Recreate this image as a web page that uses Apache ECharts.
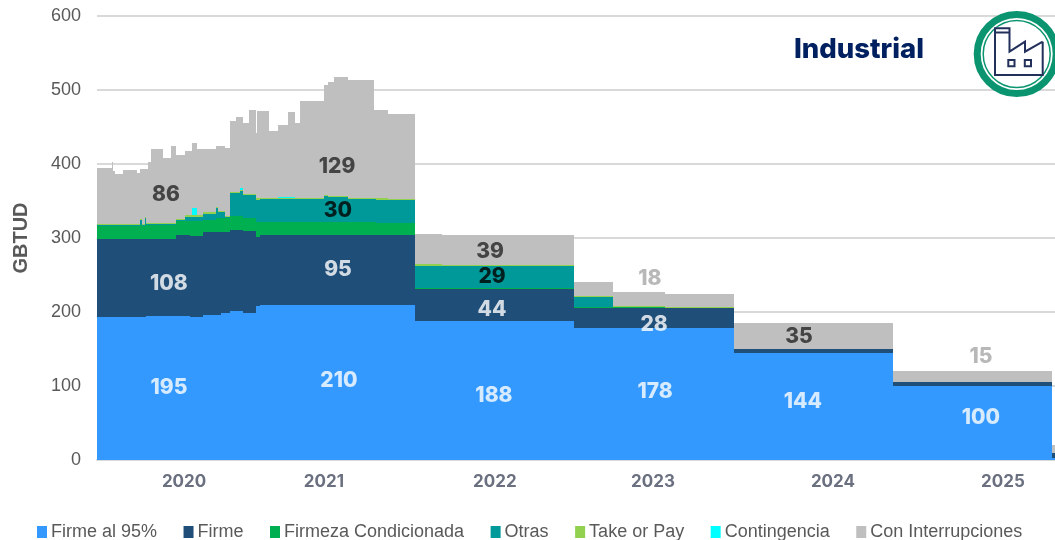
<!DOCTYPE html>
<html><head><meta charset="utf-8">
<style>html,body{margin:0;padding:0;background:#fff}#c{width:1055px;height:540px}</style>
<script src="https://cdn.jsdelivr.net/npm/echarts@6/dist/echarts.min.js"></script>
</head><body><div id="c"></div>
<script>
const periods = [2020,2020.092,2020.102,2020.113,2020.165,2020.249,2020.27,2020.28,2020.301,2020.311,2020.322,2020.339,2020.412,2020.464,2020.499,2020.552,2020.583,2020.594,2020.629,2020.667,2020.746,2020.761,2020.782,2020.803,2020.834,2020.876,2020.897,2020.917,2020.938,2020.955,2020.997,2021.007,2021.022,2021.08,2021.137,2021.2,2021.246,2021.273,2021.429,2021.45,2021.492,2021.576,2021.743,2021.753,2021.827,2022,2022.165,2023,2023.24,2023.57,2024,2025,2026,2026.019];
const firme95 = [193,193,193,193,193,193,193,193,193,194,194,194,194.6,194.6,194.6,194.6,193,193,193,196,196,196,198,198,202,202,202,199,199,199,208,208,210,210,210,210,210,210,210,210,210,210,210,210,210,188,188,178,178,178,145,100,3,3];
const firme = [105,105,105,105,105,105,105,105,105,105,105,105,104.4,104.4,109.4,109.4,110,110,110,111.6,111.6,111.6,109.6,109.6,109,109,109,110,110,110,94,94,94.5,94.5,94.5,94.5,94.5,94.5,94.5,94.5,94.5,94.5,94.5,93.6,93.6,43,43,28,28,28,5,5,6,6];
const firmezaCond = [19,19,19,19,19,19,19,19,19,18,18,18,18,18,20,18.5,19.5,19.5,19.5,17.4,19.9,19.9,19.9,19.9,19,19,19,17.6,17.6,17.6,19,19,16.5,16.5,16.5,16.5,16.5,16.5,16.5,16.5,16.5,16.5,16.5,16.9,16.9,1.5,1.5,1,0.5,0.5,0,0,0,0];
const otras = [1,1,1,1,1,1,7,1,10,1.5,1.5,1.5,1.5,1.5,0.5,6.5,6.5,6.5,6.5,8,12.5,8.1,8.1,1.1,31,31,33,31.4,32,32,31,31,32,32,32,32,32,32,36,34,34,31.7,31.7,31.5,30.5,30.1,30.1,13.7,0,0,0,0,0,0];
const takeOrPay = [1.5,1.5,1.5,1.5,1.5,1.5,1.5,1.5,1.5,1.5,1.5,1.5,1.5,1.5,1.5,1.5,1.5,1.5,1.5,1.5,1.5,1.5,1.5,1.4,1.5,1.5,1.5,1.5,1.4,1.4,1.5,1.5,1.5,1.5,1.5,1.5,1.5,1.5,1.5,1.5,1.5,1.5,1.5,1.5,1.5,1.9,1.4,0.8,1,0.5,0,0,0,0];
const contingencia = [0,0,0,0,0,0,0,0,0,0,0,0,0,0,0,0,0,10.5,0,0,0,0,0,0,0,0,3.5,0,0,0,0,0,0,0,1,1,0,0,0,0,0,0,0,0,0,0,0,0,0,0,0,0,0,0];
const conInterrupciones = [75.1,83.5,70.5,66.5,72.5,68,67.5,73.5,64.5,73,83,100,87.5,104,86,87.1,87.1,88,89.5,85.5,83.5,87.9,87.9,91.6,95.5,101.5,96,96.5,96,113,88.5,118.5,117.5,90.5,97.5,115.1,101.5,130.5,148.5,154.5,161.5,158.8,118.3,119,115.1,40.5,39.6,19,19.5,17,35,15,11,11];

const seriesNames = ['Firme al 95%','Firme','Firmeza Condicionada','Otras','Take or Pay','Contingencia','Con Interrupciones'];
const seriesColors = ['#3399FF','#1F4E79','#00B050','#009999','#92D050','#00FFFF','#BFBFBF'];
const seriesValues = [firme95,firme,firmezaCond,otras,takeOrPay,contingencia,conInterrupciones];

const yearLabels = ['2020','2021','2022','2023','2024','2025'];
const yearLabelAt = [2020.547,2021.426,2022.5,2023.493,2024.624,2025.692];
const yTicks = [0,100,200,300,400,500,600];

const noteText = ['86','129','30','108','95','195','210','39','29','44','188','18','28','178','35','144','15','100'];
const noteX = [2020.433,2021.508,2021.514,2020.452,2021.514,2020.452,2021.52,2022.469,2022.482,2022.482,2022.494,2023.474,2023.5,2023.506,2024.41,2024.435,2025.554,2025.554];
const noteY = [359,397,337,238.5,257.5,98,107.5,282,248,203.5,87,245,183,92.6,167,79,140,57.5];
const noteColor = ['#262626','#262626','#000000','#ffffff','#ffffff','#ffffff','#ffffff','#262626','#000000','#ffffff','#ffffff','#A6A6A6','#ffffff','#ffffff','#262626','#ffffff','#A6A6A6','#ffffff'];

// decimal year -> timestamp on the time axis
const toTime = y => Date.UTC(2020,0,1) + (y-2020)*365.25*86400000;

// each period is one stacked block: [start, end, base, top]
const runningBase = periods.map(()=>0);
const areaSeries = seriesNames.map((name,i)=>{
  const blocks = [];
  for (let k=0;k+1<periods.length;k++){
    const base = runningBase[k], top = base+seriesValues[i][k];
    blocks.push([toTime(periods[k]),toTime(periods[k+1]),base,top]);
    runningBase[k] = top;
  }
  return {
    name, type:'custom', color:seriesColors[i], itemStyle:{color:seriesColors[i]}, z:2, silent:true,
    encode:{x:[0,1],y:[2,3]}, data:blocks,
    renderItem:(params,api)=>{
      if (api.value(3)<=api.value(2)) return null;
      const a = api.coord([api.value(0),api.value(2)]);
      const b = api.coord([api.value(1),api.value(3)]);
      const x0=Math.round(a[0]), x1=Math.round(b[0]), y0=Math.round(a[1]), y1=Math.round(b[1]);
      return {type:'rect',shape:{x:x0,y:y1,width:x1-x0,height:Math.max(y0-y1,1)},style:{fill:seriesColors[i]}};
    }
  };
});
const noteSeries = {
  type:'scatter', symbolSize:1, itemStyle:{color:'transparent'}, z:10, silent:true,
  data:noteText.map((t,i)=>({value:[toTime(noteX[i]),noteY[i]],
    label:{show:true,position:'inside',formatter:t,color:noteColor[i],fontFamily:'Inter',fontWeight:800,fontSize:21}}))
};

const chart = echarts.init(document.getElementById('c'),null,{renderer:'canvas'});
chart.setOption({
  animation:false, backgroundColor:'#fff',
  title:{text:'Industrial',left:789,top:31,textStyle:{fontFamily:'Inter',fontWeight:800,fontSize:27.5,color:'#002060'}},
  legend:{data:seriesNames,left:32,top:518,icon:'rect',itemWidth:10,itemHeight:12,itemGap:26.5,
    textStyle:{fontFamily:'Liberation Sans',fontSize:18,color:'#595959',padding:[0,0,0,-1]}},
  grid:{left:97,right:0,top:16,bottom:80,containLabel:false},
  xAxis:[
   {type:'time',min:toTime(2020),max:toTime(2026.019),
    splitLine:{show:false},axisTick:{show:false},axisLabel:{show:false},
    axisLine:{show:true,lineStyle:{color:'#D9D9D9',width:2}}},
   {type:'value',min:2020,max:2026.019,position:'bottom',
    splitLine:{show:false},axisTick:{show:false},axisLine:{show:false},
    axisLabel:{customValues:yearLabelAt,margin:13,hideOverlap:false,
      formatter:v=>yearLabels[yearLabelAt.indexOf(v)]||'',
      fontFamily:'Inter',fontWeight:700,fontSize:17,color:'#6B7080'}}
  ],
  yAxis:{type:'value',min:0,max:600,interval:100,name:'GBTUD',nameLocation:'middle',nameGap:66,
    nameTextStyle:{fontFamily:'Liberation Sans',fontWeight:700,fontSize:20,color:'#595959'},
    axisLine:{show:false},axisTick:{show:false},
    axisLabel:{margin:16,padding:[2,0,0,0],fontFamily:'Liberation Sans',fontSize:18,color:'#595959',
      formatter:v=>yTicks.includes(v)?String(v):''},
    splitLine:{show:true,lineStyle:{color:'#D9D9D9',width:2}}},
  series:[...areaSeries,noteSeries],
  graphic:{elements:[
    {type:'circle',z:20,shape:{cx:1016.7,cy:54,r:39.5},style:{fill:'#fff',stroke:'#0B9470',lineWidth:7}},
    {type:'circle',z:20,shape:{cx:1016.7,cy:54,r:33.5},style:{fill:'#fff',stroke:'#0B9470',lineWidth:1.5}},
    {type:'circle',z:19,shape:{cx:1056,cy:52,r:4},style:{fill:'#70AD47'}},
    {type:'polyline',z:21,shape:{points:[[1042.7,41.7],[1025,51.7],[1025,41.7],[1009.5,51.7],[1009.5,28.3],[995,28.3],[995,75],[1042.7,75],[1042.7,41.7]]},style:{fill:null,stroke:'#23305C',lineWidth:2}},
    {type:'line',z:21,shape:{x1:995,y1:32.5,x2:1009.5,y2:32.5},style:{stroke:'#23305C',lineWidth:2}},
    {type:'rect',z:21,shape:{x:1008.3,y:60,width:6.2,height:6.2},style:{fill:null,stroke:'#23305C',lineWidth:2}},
    {type:'rect',z:21,shape:{x:1024.8,y:60,width:6.2,height:6.2},style:{fill:null,stroke:'#23305C',lineWidth:2}}
  ]}
});
</script></body></html>
